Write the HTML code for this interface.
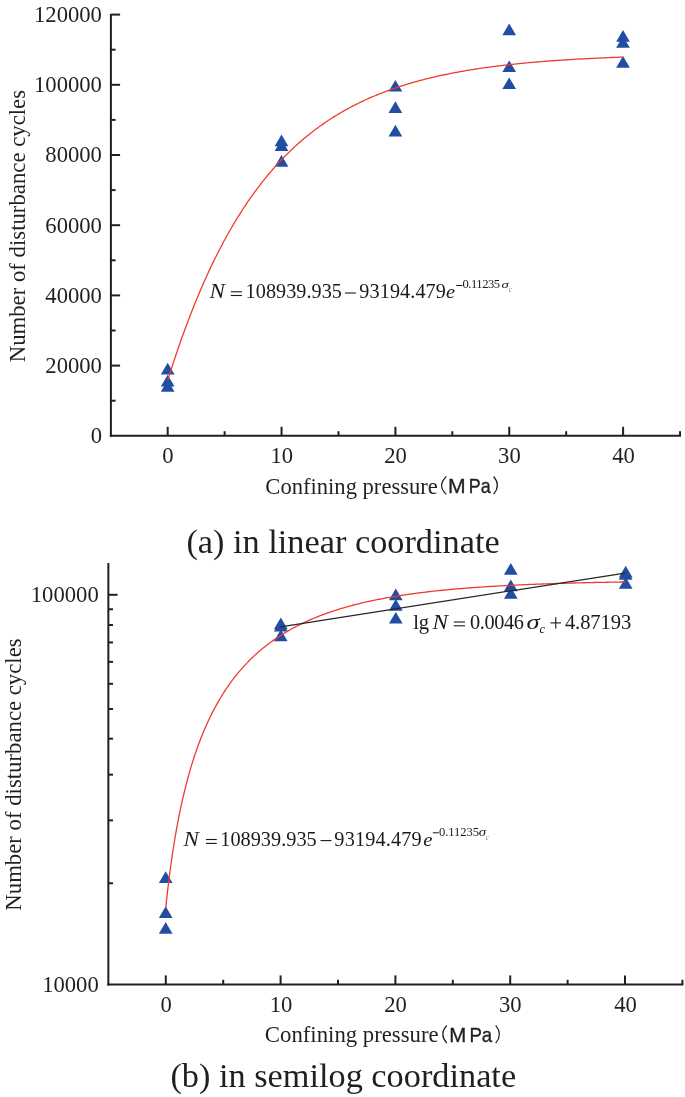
<!DOCTYPE html>
<html><head><meta charset="utf-8"><style>
html,body{margin:0;padding:0;background:#fff;}
svg{display:block;will-change:transform;}
</style></head><body>
<svg width="685" height="1097" viewBox="0 0 685 1097">
<line x1="110.90" y1="14.00" x2="110.90" y2="436.85" stroke="#231f20" stroke-width="2.0"/>
<line x1="109.85" y1="435.80" x2="681.03" y2="435.80" stroke="#231f20" stroke-width="2.0"/>
<line x1="110.90" y1="400.70" x2="115.60" y2="400.70" stroke="#231f20" stroke-width="2.0"/>
<line x1="110.90" y1="365.60" x2="120.10" y2="365.60" stroke="#231f20" stroke-width="2.0"/>
<line x1="110.90" y1="330.50" x2="115.60" y2="330.50" stroke="#231f20" stroke-width="2.0"/>
<line x1="110.90" y1="295.40" x2="120.10" y2="295.40" stroke="#231f20" stroke-width="2.0"/>
<line x1="110.90" y1="260.30" x2="115.60" y2="260.30" stroke="#231f20" stroke-width="2.0"/>
<line x1="110.90" y1="225.20" x2="120.10" y2="225.20" stroke="#231f20" stroke-width="2.0"/>
<line x1="110.90" y1="190.10" x2="115.60" y2="190.10" stroke="#231f20" stroke-width="2.0"/>
<line x1="110.90" y1="155.00" x2="120.10" y2="155.00" stroke="#231f20" stroke-width="2.0"/>
<line x1="110.90" y1="119.90" x2="115.60" y2="119.90" stroke="#231f20" stroke-width="2.0"/>
<line x1="110.90" y1="84.80" x2="120.10" y2="84.80" stroke="#231f20" stroke-width="2.0"/>
<line x1="110.90" y1="49.70" x2="115.60" y2="49.70" stroke="#231f20" stroke-width="2.0"/>
<line x1="110.90" y1="14.60" x2="120.10" y2="14.60" stroke="#231f20" stroke-width="2.0"/>
<line x1="167.70" y1="435.80" x2="167.70" y2="426.80" stroke="#231f20" stroke-width="2.0"/>
<line x1="224.62" y1="435.80" x2="224.62" y2="431.20" stroke="#231f20" stroke-width="2.0"/>
<line x1="281.55" y1="435.80" x2="281.55" y2="426.80" stroke="#231f20" stroke-width="2.0"/>
<line x1="338.48" y1="435.80" x2="338.48" y2="431.20" stroke="#231f20" stroke-width="2.0"/>
<line x1="395.40" y1="435.80" x2="395.40" y2="426.80" stroke="#231f20" stroke-width="2.0"/>
<line x1="452.32" y1="435.80" x2="452.32" y2="431.20" stroke="#231f20" stroke-width="2.0"/>
<line x1="509.25" y1="435.80" x2="509.25" y2="426.80" stroke="#231f20" stroke-width="2.0"/>
<line x1="566.17" y1="435.80" x2="566.17" y2="431.20" stroke="#231f20" stroke-width="2.0"/>
<line x1="623.10" y1="435.80" x2="623.10" y2="426.80" stroke="#231f20" stroke-width="2.0"/>
<line x1="680.03" y1="435.80" x2="680.03" y2="431.20" stroke="#231f20" stroke-width="2.0"/>
<text x="90.64" y="443.15" font-size="22.65" font-family="Liberation Serif" fill="#231f20">0</text>
<text x="45.34" y="372.95" font-size="22.65" font-family="Liberation Serif" fill="#231f20">20000</text>
<text x="45.34" y="302.75" font-size="22.65" font-family="Liberation Serif" fill="#231f20">40000</text>
<text x="45.34" y="232.55" font-size="22.65" font-family="Liberation Serif" fill="#231f20">60000</text>
<text x="45.34" y="162.35" font-size="22.65" font-family="Liberation Serif" fill="#231f20">80000</text>
<text x="34.01" y="92.15" font-size="22.65" font-family="Liberation Serif" fill="#231f20">100000</text>
<text x="34.01" y="21.95" font-size="22.65" font-family="Liberation Serif" fill="#231f20">120000</text>
<text x="162.34" y="463.10" font-size="22.65" font-family="Liberation Serif" fill="#231f20">0</text>
<text x="270.56" y="463.10" font-size="22.65" font-family="Liberation Serif" fill="#231f20">10</text>
<text x="384.31" y="463.10" font-size="22.65" font-family="Liberation Serif" fill="#231f20">20</text>
<text x="498.11" y="463.10" font-size="22.65" font-family="Liberation Serif" fill="#231f20">30</text>
<text x="612.29" y="463.10" font-size="22.65" font-family="Liberation Serif" fill="#231f20">40</text>
<path d="M167.70 362.80L160.85 374.50L174.55 374.50Z" fill="#214da3"/>
<path d="M167.70 374.80L160.85 386.50L174.55 386.50Z" fill="#214da3"/>
<path d="M167.70 380.10L160.85 391.80L174.55 391.80Z" fill="#214da3"/>
<path d="M281.50 134.60L274.65 146.30L288.35 146.30Z" fill="#214da3"/>
<path d="M281.50 139.20L274.65 150.90L288.35 150.90Z" fill="#214da3"/>
<path d="M281.50 155.10L274.65 166.80L288.35 166.80Z" fill="#214da3"/>
<path d="M395.40 79.90L388.55 91.60L402.25 91.60Z" fill="#214da3"/>
<path d="M395.40 101.30L388.55 113.00L402.25 113.00Z" fill="#214da3"/>
<path d="M395.40 124.80L388.55 136.50L402.25 136.50Z" fill="#214da3"/>
<path d="M509.20 23.50L502.35 35.20L516.05 35.20Z" fill="#214da3"/>
<path d="M509.20 60.40L502.35 72.10L516.05 72.10Z" fill="#214da3"/>
<path d="M509.20 77.40L502.35 89.10L516.05 89.10Z" fill="#214da3"/>
<path d="M623.00 30.00L616.15 41.70L629.85 41.70Z" fill="#214da3"/>
<path d="M623.00 36.00L616.15 47.70L629.85 47.70Z" fill="#214da3"/>
<path d="M623.00 56.10L616.15 67.80L629.85 67.80Z" fill="#214da3"/>
<path d="M167.70,380.53 L168.84,376.88 L169.98,373.27 L171.12,369.69 L172.25,366.16 L173.39,362.66 L174.53,359.21 L175.67,355.79 L176.81,352.42 L177.95,349.07 L179.08,345.77 L180.22,342.51 L181.36,339.28 L182.50,336.08 L183.64,332.92 L184.78,329.80 L185.92,326.71 L187.05,323.66 L188.19,320.64 L189.33,317.66 L190.47,314.70 L191.61,311.78 L192.75,308.90 L193.89,306.04 L195.02,303.22 L196.16,300.43 L197.30,297.67 L198.44,294.94 L199.58,292.24 L200.72,289.58 L201.85,286.94 L202.99,284.33 L204.13,281.75 L205.27,279.20 L206.41,276.68 L207.55,274.18 L208.69,271.72 L209.82,269.28 L210.96,266.86 L212.10,264.48 L213.24,262.12 L214.38,259.79 L215.52,257.49 L216.66,255.21 L217.79,252.95 L218.93,250.72 L220.07,248.52 L221.21,246.34 L222.35,244.18 L223.49,242.05 L224.62,239.94 L225.76,237.86 L226.90,235.80 L228.04,233.76 L229.18,231.75 L230.32,229.75 L231.46,227.78 L232.59,225.84 L233.73,223.91 L234.87,222.01 L236.01,220.12 L237.15,218.26 L238.29,216.42 L239.43,214.60 L240.56,212.80 L241.70,211.02 L242.84,209.26 L243.98,207.51 L245.12,205.79 L246.26,204.09 L247.39,202.41 L248.53,200.74 L249.67,199.10 L250.81,197.47 L251.95,195.86 L253.09,194.27 L254.23,192.70 L255.36,191.14 L256.50,189.60 L257.64,188.08 L258.78,186.57 L259.92,185.09 L261.06,183.62 L262.20,182.16 L263.33,180.72 L264.47,179.30 L265.61,177.89 L266.75,176.50 L267.89,175.13 L269.03,173.77 L270.16,172.42 L271.30,171.09 L272.44,169.78 L273.58,168.48 L274.72,167.19 L275.86,165.92 L277.00,164.67 L278.13,163.42 L279.27,162.20 L280.41,160.98 L281.55,159.78 L282.69,158.59 L283.83,157.41 L284.97,156.25 L286.10,155.10 L287.24,153.97 L288.38,152.84 L289.52,151.73 L290.66,150.64 L291.80,149.55 L292.94,148.48 L294.07,147.41 L295.21,146.36 L296.35,145.33 L297.49,144.30 L298.63,143.28 L299.77,142.28 L300.90,141.29 L302.04,140.30 L303.18,139.33 L304.32,138.37 L305.46,137.43 L306.60,136.49 L307.74,135.56 L308.87,134.64 L310.01,133.73 L311.15,132.84 L312.29,131.95 L313.43,131.07 L314.57,130.20 L315.70,129.35 L316.84,128.50 L317.98,127.66 L319.12,126.83 L320.26,126.01 L321.40,125.20 L322.54,124.40 L323.67,123.60 L324.81,122.82 L325.95,122.04 L327.09,121.28 L328.23,120.52 L329.37,119.77 L330.51,119.03 L331.64,118.30 L332.78,117.57 L333.92,116.85 L335.06,116.15 L336.20,115.45 L337.34,114.75 L338.48,114.07 L339.61,113.39 L340.75,112.72 L341.89,112.06 L343.03,111.40 L344.17,110.75 L345.31,110.11 L346.44,109.48 L347.58,108.85 L348.72,108.23 L349.86,107.62 L351.00,107.02 L352.14,106.42 L353.28,105.83 L354.41,105.24 L355.55,104.66 L356.69,104.09 L357.83,103.52 L358.97,102.96 L360.11,102.41 L361.25,101.86 L362.38,101.32 L363.52,100.79 L364.66,100.26 L365.80,99.73 L366.94,99.22 L368.08,98.70 L369.21,98.20 L370.35,97.70 L371.49,97.20 L372.63,96.71 L373.77,96.23 L374.91,95.75 L376.05,95.28 L377.18,94.81 L378.32,94.35 L379.46,93.89 L380.60,93.44 L381.74,92.99 L382.88,92.55 L384.01,92.11 L385.15,91.68 L386.29,91.25 L387.43,90.83 L388.57,90.41 L389.71,90.00 L390.85,89.59 L391.98,89.19 L393.12,88.79 L394.26,88.39 L395.40,88.00 L396.54,87.62 L397.68,87.23 L398.82,86.86 L399.95,86.48 L401.09,86.11 L402.23,85.75 L403.37,85.39 L404.51,85.03 L405.65,84.68 L406.78,84.33 L407.92,83.98 L409.06,83.64 L410.20,83.30 L411.34,82.97 L412.48,82.64 L413.62,82.31 L414.75,81.99 L415.89,81.67 L417.03,81.35 L418.17,81.04 L419.31,80.73 L420.45,80.43 L421.59,80.13 L422.72,79.83 L423.86,79.53 L425.00,79.24 L426.14,78.95 L427.28,78.67 L428.42,78.39 L429.56,78.11 L430.69,77.83 L431.83,77.56 L432.97,77.29 L434.11,77.02 L435.25,76.76 L436.39,76.50 L437.52,76.24 L438.66,75.99 L439.80,75.73 L440.94,75.48 L442.08,75.24 L443.22,74.99 L444.36,74.75 L445.49,74.51 L446.63,74.28 L447.77,74.05 L448.91,73.82 L450.05,73.59 L451.19,73.36 L452.32,73.14 L453.46,72.92 L454.60,72.70 L455.74,72.49 L456.88,72.27 L458.02,72.06 L459.16,71.85 L460.29,71.65 L461.43,71.44 L462.57,71.24 L463.71,71.04 L464.85,70.85 L465.99,70.65 L467.13,70.46 L468.26,70.27 L469.40,70.08 L470.54,69.90 L471.68,69.71 L472.82,69.53 L473.96,69.35 L475.09,69.17 L476.23,69.00 L477.37,68.82 L478.51,68.65 L479.65,68.48 L480.79,68.31 L481.93,68.14 L483.06,67.98 L484.20,67.82 L485.34,67.66 L486.48,67.50 L487.62,67.34 L488.76,67.18 L489.90,67.03 L491.03,66.88 L492.17,66.73 L493.31,66.58 L494.45,66.43 L495.59,66.29 L496.73,66.14 L497.87,66.00 L499.00,65.86 L500.14,65.72 L501.28,65.58 L502.42,65.45 L503.56,65.31 L504.70,65.18 L505.83,65.05 L506.97,64.92 L508.11,64.79 L509.25,64.66 L510.39,64.54 L511.53,64.41 L512.67,64.29 L513.80,64.17 L514.94,64.05 L516.08,63.93 L517.22,63.81 L518.36,63.70 L519.50,63.58 L520.63,63.47 L521.77,63.36 L522.91,63.25 L524.05,63.14 L525.19,63.03 L526.33,62.92 L527.47,62.81 L528.60,62.71 L529.74,62.61 L530.88,62.50 L532.02,62.40 L533.16,62.30 L534.30,62.20 L535.44,62.10 L536.57,62.01 L537.71,61.91 L538.85,61.82 L539.99,61.72 L541.13,61.63 L542.27,61.54 L543.40,61.45 L544.54,61.36 L545.68,61.27 L546.82,61.18 L547.96,61.09 L549.10,61.01 L550.24,60.92 L551.37,60.84 L552.51,60.76 L553.65,60.68 L554.79,60.59 L555.93,60.51 L557.07,60.44 L558.21,60.36 L559.34,60.28 L560.48,60.20 L561.62,60.13 L562.76,60.05 L563.90,59.98 L565.04,59.90 L566.17,59.83 L567.31,59.76 L568.45,59.69 L569.59,59.62 L570.73,59.55 L571.87,59.48 L573.01,59.41 L574.14,59.35 L575.28,59.28 L576.42,59.22 L577.56,59.15 L578.70,59.09 L579.84,59.02 L580.98,58.96 L582.11,58.90 L583.25,58.84 L584.39,58.78 L585.53,58.72 L586.67,58.66 L587.81,58.60 L588.94,58.54 L590.08,58.48 L591.22,58.43 L592.36,58.37 L593.50,58.32 L594.64,58.26 L595.78,58.21 L596.91,58.15 L598.05,58.10 L599.19,58.05 L600.33,58.00 L601.47,57.95 L602.61,57.90 L603.75,57.85 L604.88,57.80 L606.02,57.75 L607.16,57.70 L608.30,57.65 L609.44,57.60 L610.58,57.56 L611.71,57.51 L612.85,57.47 L613.99,57.42 L615.13,57.38 L616.27,57.33 L617.41,57.29 L618.55,57.24 L619.68,57.20 L620.82,57.16 L621.96,57.12 L623.10,57.08" fill="none" stroke="#ee3b2f" stroke-width="1.3"/>
<line x1="108.35" y1="563.05" x2="108.35" y2="985.40" stroke="#231f20" stroke-width="2.0"/>
<line x1="107.30" y1="984.40" x2="683.40" y2="984.40" stroke="#231f20" stroke-width="2.0"/>
<line x1="108.35" y1="594.80" x2="117.55" y2="594.80" stroke="#231f20" stroke-width="2.0"/>
<line x1="108.35" y1="883.25" x2="113.05" y2="883.25" stroke="#231f20" stroke-width="2.0"/>
<line x1="108.35" y1="820.38" x2="113.05" y2="820.38" stroke="#231f20" stroke-width="2.0"/>
<line x1="108.35" y1="774.64" x2="113.05" y2="774.64" stroke="#231f20" stroke-width="2.0"/>
<line x1="108.35" y1="738.68" x2="113.05" y2="738.68" stroke="#231f20" stroke-width="2.0"/>
<line x1="108.35" y1="709.03" x2="113.05" y2="709.03" stroke="#231f20" stroke-width="2.0"/>
<line x1="108.35" y1="683.82" x2="113.05" y2="683.82" stroke="#231f20" stroke-width="2.0"/>
<line x1="108.35" y1="661.87" x2="113.05" y2="661.87" stroke="#231f20" stroke-width="2.0"/>
<line x1="108.35" y1="642.45" x2="113.05" y2="642.45" stroke="#231f20" stroke-width="2.0"/>
<line x1="108.35" y1="625.03" x2="113.05" y2="625.03" stroke="#231f20" stroke-width="2.0"/>
<line x1="108.35" y1="609.24" x2="113.05" y2="609.24" stroke="#231f20" stroke-width="2.0"/>
<line x1="165.80" y1="984.40" x2="165.80" y2="975.40" stroke="#231f20" stroke-width="2.0"/>
<line x1="223.20" y1="984.40" x2="223.20" y2="979.80" stroke="#231f20" stroke-width="2.0"/>
<line x1="280.60" y1="984.40" x2="280.60" y2="975.40" stroke="#231f20" stroke-width="2.0"/>
<line x1="338.00" y1="984.40" x2="338.00" y2="979.80" stroke="#231f20" stroke-width="2.0"/>
<line x1="395.40" y1="984.40" x2="395.40" y2="975.40" stroke="#231f20" stroke-width="2.0"/>
<line x1="452.80" y1="984.40" x2="452.80" y2="979.80" stroke="#231f20" stroke-width="2.0"/>
<line x1="510.20" y1="984.40" x2="510.20" y2="975.40" stroke="#231f20" stroke-width="2.0"/>
<line x1="567.60" y1="984.40" x2="567.60" y2="979.80" stroke="#231f20" stroke-width="2.0"/>
<line x1="625.00" y1="984.40" x2="625.00" y2="975.40" stroke="#231f20" stroke-width="2.0"/>
<line x1="682.40" y1="984.40" x2="682.40" y2="979.80" stroke="#231f20" stroke-width="2.0"/>
<text x="30.81" y="602.15" font-size="22.65" font-family="Liberation Serif" fill="#231f20">100000</text>
<text x="42.14" y="991.75" font-size="22.65" font-family="Liberation Serif" fill="#231f20">10000</text>
<text x="160.44" y="1012.10" font-size="22.65" font-family="Liberation Serif" fill="#231f20">0</text>
<text x="269.81" y="1012.10" font-size="22.65" font-family="Liberation Serif" fill="#231f20">10</text>
<text x="384.31" y="1012.10" font-size="22.65" font-family="Liberation Serif" fill="#231f20">20</text>
<text x="499.06" y="1012.10" font-size="22.65" font-family="Liberation Serif" fill="#231f20">30</text>
<text x="614.19" y="1012.10" font-size="22.65" font-family="Liberation Serif" fill="#231f20">40</text>
<path d="M165.70 871.30L158.85 883.00L172.55 883.00Z" fill="#214da3"/>
<path d="M165.70 906.30L158.85 918.00L172.55 918.00Z" fill="#214da3"/>
<path d="M165.70 922.00L158.85 933.70L172.55 933.70Z" fill="#214da3"/>
<path d="M280.80 617.50L273.95 629.20L287.65 629.20Z" fill="#214da3"/>
<path d="M280.80 619.90L273.95 631.60L287.65 631.60Z" fill="#214da3"/>
<path d="M280.80 629.60L273.95 641.30L287.65 641.30Z" fill="#214da3"/>
<path d="M395.80 588.60L388.95 600.30L402.65 600.30Z" fill="#214da3"/>
<path d="M395.80 599.00L388.95 610.70L402.65 610.70Z" fill="#214da3"/>
<path d="M395.80 611.90L388.95 623.60L402.65 623.60Z" fill="#214da3"/>
<path d="M510.80 563.00L503.95 574.70L517.65 574.70Z" fill="#214da3"/>
<path d="M510.80 579.50L503.95 591.20L517.65 591.20Z" fill="#214da3"/>
<path d="M510.80 587.10L503.95 598.80L517.65 598.80Z" fill="#214da3"/>
<path d="M625.70 565.80L618.85 577.50L632.55 577.50Z" fill="#214da3"/>
<path d="M625.70 568.10L618.85 579.80L632.55 579.80Z" fill="#214da3"/>
<path d="M625.70 577.00L618.85 588.70L632.55 588.70Z" fill="#214da3"/>
<path d="M165.80,907.59 L166.95,896.75 L168.10,886.68 L169.24,877.28 L170.39,868.47 L171.54,860.19 L172.69,852.38 L173.84,844.99 L174.98,838.00 L176.13,831.35 L177.28,825.03 L178.43,819.00 L179.58,813.24 L180.72,807.73 L181.87,802.45 L183.02,797.40 L184.17,792.54 L185.32,787.87 L186.46,783.37 L187.61,779.04 L188.76,774.86 L189.91,770.83 L191.06,766.94 L192.20,763.18 L193.35,759.54 L194.50,756.01 L195.65,752.60 L196.80,749.29 L197.94,746.08 L199.09,742.96 L200.24,739.93 L201.39,737.00 L202.54,734.14 L203.68,731.36 L204.83,728.66 L205.98,726.02 L207.13,723.46 L208.28,720.96 L209.42,718.53 L210.57,716.16 L211.72,713.85 L212.87,711.59 L214.02,709.39 L215.16,707.24 L216.31,705.14 L217.46,703.09 L218.61,701.09 L219.76,699.13 L220.90,697.21 L222.05,695.34 L223.20,693.51 L224.35,691.72 L225.50,689.97 L226.64,688.25 L227.79,686.58 L228.94,684.93 L230.09,683.32 L231.24,681.74 L232.38,680.20 L233.53,678.69 L234.68,677.20 L235.83,675.75 L236.98,674.32 L238.12,672.92 L239.27,671.55 L240.42,670.20 L241.57,668.88 L242.72,667.59 L243.86,666.32 L245.01,665.07 L246.16,663.84 L247.31,662.64 L248.46,661.46 L249.60,660.30 L250.75,659.16 L251.90,658.05 L253.05,656.95 L254.20,655.87 L255.34,654.81 L256.49,653.76 L257.64,652.74 L258.79,651.73 L259.94,650.74 L261.08,649.77 L262.23,648.81 L263.38,647.87 L264.53,646.95 L265.68,646.04 L266.82,645.14 L267.97,644.26 L269.12,643.40 L270.27,642.54 L271.42,641.71 L272.56,640.88 L273.71,640.07 L274.86,639.27 L276.01,638.48 L277.16,637.71 L278.30,636.95 L279.45,636.20 L280.60,635.46 L281.75,634.73 L282.90,634.02 L284.04,633.31 L285.19,632.62 L286.34,631.94 L287.49,631.26 L288.64,630.60 L289.78,629.95 L290.93,629.30 L292.08,628.67 L293.23,628.05 L294.38,627.43 L295.52,626.82 L296.67,626.23 L297.82,625.64 L298.97,625.06 L300.12,624.49 L301.26,623.93 L302.41,623.37 L303.56,622.82 L304.71,622.28 L305.86,621.75 L307.00,621.23 L308.15,620.71 L309.30,620.20 L310.45,619.70 L311.60,619.21 L312.74,618.72 L313.89,618.24 L315.04,617.76 L316.19,617.30 L317.34,616.84 L318.48,616.38 L319.63,615.93 L320.78,615.49 L321.93,615.05 L323.08,614.62 L324.22,614.20 L325.37,613.78 L326.52,613.37 L327.67,612.96 L328.82,612.56 L329.96,612.16 L331.11,611.77 L332.26,611.38 L333.41,611.00 L334.56,610.63 L335.70,610.26 L336.85,609.89 L338.00,609.53 L339.15,609.18 L340.30,608.82 L341.44,608.48 L342.59,608.14 L343.74,607.80 L344.89,607.46 L346.04,607.14 L347.18,606.81 L348.33,606.49 L349.48,606.18 L350.63,605.86 L351.78,605.56 L352.92,605.25 L354.07,604.95 L355.22,604.66 L356.37,604.36 L357.52,604.08 L358.66,603.79 L359.81,603.51 L360.96,603.23 L362.11,602.96 L363.26,602.69 L364.40,602.42 L365.55,602.16 L366.70,601.90 L367.85,601.64 L369.00,601.39 L370.14,601.13 L371.29,600.89 L372.44,600.64 L373.59,600.40 L374.74,600.16 L375.88,599.93 L377.03,599.70 L378.18,599.47 L379.33,599.24 L380.48,599.02 L381.62,598.80 L382.77,598.58 L383.92,598.36 L385.07,598.15 L386.22,597.94 L387.36,597.73 L388.51,597.53 L389.66,597.33 L390.81,597.13 L391.96,596.93 L393.10,596.73 L394.25,596.54 L395.40,596.35 L396.55,596.16 L397.70,595.98 L398.84,595.79 L399.99,595.61 L401.14,595.43 L402.29,595.26 L403.44,595.08 L404.58,594.91 L405.73,594.74 L406.88,594.57 L408.03,594.41 L409.18,594.24 L410.32,594.08 L411.47,593.92 L412.62,593.76 L413.77,593.60 L414.92,593.45 L416.06,593.30 L417.21,593.15 L418.36,593.00 L419.51,592.85 L420.66,592.71 L421.80,592.56 L422.95,592.42 L424.10,592.28 L425.25,592.14 L426.40,592.00 L427.54,591.87 L428.69,591.74 L429.84,591.60 L430.99,591.47 L432.14,591.34 L433.28,591.22 L434.43,591.09 L435.58,590.97 L436.73,590.84 L437.88,590.72 L439.02,590.60 L440.17,590.48 L441.32,590.37 L442.47,590.25 L443.62,590.14 L444.76,590.02 L445.91,589.91 L447.06,589.80 L448.21,589.69 L449.36,589.59 L450.50,589.48 L451.65,589.37 L452.80,589.27 L453.95,589.17 L455.10,589.07 L456.24,588.97 L457.39,588.87 L458.54,588.77 L459.69,588.67 L460.84,588.58 L461.98,588.48 L463.13,588.39 L464.28,588.30 L465.43,588.20 L466.58,588.11 L467.72,588.02 L468.87,587.94 L470.02,587.85 L471.17,587.76 L472.32,587.68 L473.46,587.59 L474.61,587.51 L475.76,587.43 L476.91,587.35 L478.06,587.27 L479.20,587.19 L480.35,587.11 L481.50,587.03 L482.65,586.96 L483.80,586.88 L484.94,586.81 L486.09,586.73 L487.24,586.66 L488.39,586.59 L489.54,586.51 L490.68,586.44 L491.83,586.37 L492.98,586.31 L494.13,586.24 L495.28,586.17 L496.42,586.10 L497.57,586.04 L498.72,585.97 L499.87,585.91 L501.02,585.84 L502.16,585.78 L503.31,585.72 L504.46,585.66 L505.61,585.60 L506.76,585.54 L507.90,585.48 L509.05,585.42 L510.20,585.36 L511.35,585.30 L512.50,585.25 L513.64,585.19 L514.79,585.14 L515.94,585.08 L517.09,585.03 L518.24,584.97 L519.38,584.92 L520.53,584.87 L521.68,584.82 L522.83,584.77 L523.98,584.72 L525.12,584.67 L526.27,584.62 L527.42,584.57 L528.57,584.52 L529.72,584.47 L530.86,584.43 L532.01,584.38 L533.16,584.33 L534.31,584.29 L535.46,584.24 L536.60,584.20 L537.75,584.15 L538.90,584.11 L540.05,584.07 L541.20,584.03 L542.34,583.98 L543.49,583.94 L544.64,583.90 L545.79,583.86 L546.94,583.82 L548.08,583.78 L549.23,583.74 L550.38,583.70 L551.53,583.67 L552.68,583.63 L553.82,583.59 L554.97,583.55 L556.12,583.52 L557.27,583.48 L558.42,583.44 L559.56,583.41 L560.71,583.37 L561.86,583.34 L563.01,583.31 L564.16,583.27 L565.30,583.24 L566.45,583.21 L567.60,583.17 L568.75,583.14 L569.90,583.11 L571.04,583.08 L572.19,583.05 L573.34,583.02 L574.49,582.98 L575.64,582.95 L576.78,582.93 L577.93,582.90 L579.08,582.87 L580.23,582.84 L581.38,582.81 L582.52,582.78 L583.67,582.75 L584.82,582.73 L585.97,582.70 L587.12,582.67 L588.26,582.65 L589.41,582.62 L590.56,582.59 L591.71,582.57 L592.86,582.54 L594.00,582.52 L595.15,582.49 L596.30,582.47 L597.45,582.44 L598.60,582.42 L599.74,582.40 L600.89,582.37 L602.04,582.35 L603.19,582.33 L604.34,582.30 L605.48,582.28 L606.63,582.26 L607.78,582.24 L608.93,582.22 L610.08,582.19 L611.22,582.17 L612.37,582.15 L613.52,582.13 L614.67,582.11 L615.82,582.09 L616.96,582.07 L618.11,582.05 L619.26,582.03 L620.41,582.01 L621.56,581.99 L622.70,581.97 L623.85,581.96 L625.00,581.94" fill="none" stroke="#ee3b2f" stroke-width="1.3"/>
<line x1="280.60" y1="626.77" x2="625.00" y2="573.01" stroke="#262626" stroke-width="1.25"/>
<text x="265.37" y="493.60" font-size="22.58" font-family="Liberation Serif" fill="#231f20" >Confining pressure</text>
<text x="264.87" y="1042.40" font-size="22.75" font-family="Liberation Serif" fill="#231f20" >Confining pressure</text>
<path d="M446.40 476.50 Q436.80 485.45 446.40 494.40" fill="none" stroke="#231f20" stroke-width="1.2"/>
<path d="M493.60 476.50 Q501.20 485.30 493.60 494.10" fill="none" stroke="#231f20" stroke-width="1.2"/>
<text x="447.99" y="492.80" font-size="20.8" font-family="Liberation Sans" fill="#231f20" stroke="#231f20" stroke-width="0.35" textLength="17.61" lengthAdjust="spacingAndGlyphs">M</text>
<text x="468.79" y="492.80" font-size="20.8" font-family="Liberation Sans" fill="#231f20" stroke="#231f20" stroke-width="0.35" textLength="21.91" lengthAdjust="spacingAndGlyphs">Pa</text>
<path d="M446.80 1025.40 Q438.80 1034.30 446.80 1043.20" fill="none" stroke="#231f20" stroke-width="1.2"/>
<path d="M495.70 1025.40 Q503.10 1034.30 495.70 1043.20" fill="none" stroke="#231f20" stroke-width="1.2"/>
<text x="449.29" y="1041.60" font-size="20.8" font-family="Liberation Sans" fill="#231f20" stroke="#231f20" stroke-width="0.35" textLength="17.01" lengthAdjust="spacingAndGlyphs">M</text>
<text x="469.39" y="1041.60" font-size="20.8" font-family="Liberation Sans" fill="#231f20" stroke="#231f20" stroke-width="0.35" textLength="22.81" lengthAdjust="spacingAndGlyphs">Pa</text>
<text transform="translate(24.6,362.26) rotate(-90)" x="0" y="0" font-size="22.75" font-family="Liberation Serif" fill="#231f20">Number of disturbance cycles</text>
<text transform="translate(21.3,910.66) rotate(-90)" x="0" y="0" font-size="22.75" font-family="Liberation Serif" fill="#231f20">Number of disturbance cycles</text>
<text x="186.39" y="552.90" font-size="34.3" font-family="Liberation Serif" fill="#231f20" >(a) in linear coordinate</text>
<text x="170.39" y="1087.00" font-size="34.3" font-family="Liberation Serif" fill="#231f20" >(b) in semilog coordinate</text>
<text x="209.47" y="298.40" font-size="21.2" font-family="Liberation Serif" font-style="italic" fill="#1a1a1a" textLength="15.46" lengthAdjust="spacingAndGlyphs">N</text>
<rect x="230.80" y="291.25" width="11.10" height="1.10" fill="#1a1a1a"/>
<rect x="230.80" y="294.95" width="11.10" height="1.10" fill="#1a1a1a"/>
<text x="245.62" y="298.40" font-size="20.2" font-family="Liberation Serif" fill="#1a1a1a" textLength="96.26" lengthAdjust="spacing">108939.935</text>
<rect x="345.00" y="292.45" width="10.90" height="1.10" fill="#1a1a1a"/>
<text x="359.35" y="298.40" font-size="20.2" font-family="Liberation Serif" fill="#1a1a1a" textLength="86.48" lengthAdjust="spacing">93194.479</text>
<text x="446.08" y="298.40" font-size="19.0" font-family="Liberation Serif" font-style="italic" fill="#1a1a1a" textLength="8.98" lengthAdjust="spacingAndGlyphs">e</text>
<rect x="456.10" y="285.00" width="6.40" height="1.00" fill="#1a1a1a"/>
<text x="462.52" y="288.40" font-size="12.6" font-family="Liberation Serif" fill="#1a1a1a" textLength="37.57" lengthAdjust="spacing">0.11235</text>
<text x="501.46" y="288.30" font-size="11.2" font-family="Liberation Serif" font-style="italic" fill="#1a1a1a" textLength="7.27" lengthAdjust="spacingAndGlyphs">σ</text>
<text x="508.67" y="292.10" font-size="7.5" font-family="Liberation Serif" font-style="italic" fill="#8a8a8a" >c</text>
<text x="183.47" y="845.80" font-size="21.1" font-family="Liberation Serif" font-style="italic" fill="#1a1a1a" textLength="15.46" lengthAdjust="spacingAndGlyphs">N</text>
<rect x="206.00" y="838.95" width="10.80" height="1.10" fill="#1a1a1a"/>
<rect x="206.00" y="842.85" width="10.80" height="1.10" fill="#1a1a1a"/>
<text x="220.22" y="845.80" font-size="20.3" font-family="Liberation Serif" fill="#1a1a1a" textLength="96.48" lengthAdjust="spacing">108939.935</text>
<rect x="320.50" y="840.05" width="11.00" height="1.10" fill="#1a1a1a"/>
<text x="334.35" y="845.80" font-size="20.3" font-family="Liberation Serif" fill="#1a1a1a" textLength="87.29" lengthAdjust="spacing">93194.479</text>
<text x="423.16" y="845.80" font-size="19.0" font-family="Liberation Serif" font-style="italic" fill="#1a1a1a" textLength="9.20" lengthAdjust="spacingAndGlyphs">e</text>
<rect x="432.80" y="832.30" width="6.10" height="1.00" fill="#1a1a1a"/>
<text x="439.02" y="835.90" font-size="12.6" font-family="Liberation Serif" fill="#1a1a1a" textLength="40.07" lengthAdjust="spacing">0.11235</text>
<text x="478.76" y="835.80" font-size="12.0" font-family="Liberation Serif" font-style="italic" fill="#1a1a1a" textLength="7.27" lengthAdjust="spacingAndGlyphs">σ</text>
<text x="485.77" y="839.60" font-size="7.5" font-family="Liberation Serif" font-style="italic" fill="#8a8a8a" >c</text>
<text x="413.19" y="628.60" font-size="20.6" font-family="Liberation Serif" fill="#1a1a1a" textLength="15.80" lengthAdjust="spacing">lg</text>
<text x="432.47" y="628.60" font-size="20.8" font-family="Liberation Serif" font-style="italic" fill="#1a1a1a" textLength="15.55" lengthAdjust="spacingAndGlyphs">N</text>
<rect x="453.80" y="621.45" width="11.20" height="1.10" fill="#1a1a1a"/>
<rect x="453.80" y="625.25" width="11.20" height="1.10" fill="#1a1a1a"/>
<text x="469.93" y="628.60" font-size="20.3" font-family="Liberation Serif" fill="#1a1a1a" textLength="53.98" lengthAdjust="spacing">0.0046</text>
<text x="526.51" y="629.00" font-size="21.1" font-family="Liberation Serif" font-style="italic" fill="#1a1a1a" textLength="13.05" lengthAdjust="spacingAndGlyphs">σ</text>
<text x="539.62" y="633.40" font-size="12.5" font-family="Liberation Serif" font-style="italic" fill="#1a1a1a" >c</text>
<rect x="550.50" y="622.35" width="10.50" height="1.10" fill="#1a1a1a"/>
<rect x="555.20" y="617.2" width="1.1" height="11.4" fill="#1a1a1a"/>
<text x="564.90" y="628.60" font-size="20.6" font-family="Liberation Serif" fill="#1a1a1a" textLength="66.31" lengthAdjust="spacing">4.87193</text>
</svg>
</body></html>
